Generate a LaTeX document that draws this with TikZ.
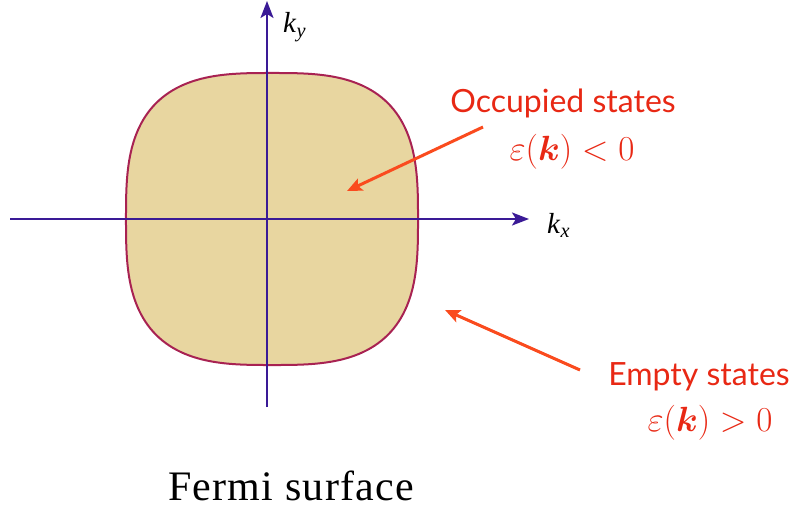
\RequirePackage{fix-cm}
\documentclass[tikz,border=0pt]{standalone}
\usepackage{amsmath,bm}
\usepackage[no-math]{fontspec}
\setmainfont{Liberation Serif}
\newfontfamily\labelfont{Lato}
\newfontfamily\captionfont[LetterSpace=3]{Liberation Serif}
\usetikzlibrary{arrows.meta}
\definecolor{fermifill}{RGB}{232,214,160}
\definecolor{fermiline}{RGB}{168,34,82}
\definecolor{axisblue}{RGB}{58,26,150}
\definecolor{pointred}{RGB}{250,75,30}
\definecolor{textred}{RGB}{232,40,20}
\begin{document}
\begin{tikzpicture}[
  x=1pt, y=-1pt,
  axis/.style={draw=axisblue, line width=2.4pt, -{Stealth[length=17pt, width=13pt, inset=4pt]}},
  pointer/.style={draw=pointred, line width=3pt, -{Stealth[length=15pt, width=13pt, inset=3pt]}},
  statelabel/.style={font=\labelfont\fontsize{32}{36}\selectfont, text=textred, anchor=base, inner sep=0pt},
  energy/.style={font=\fontsize{35}{38}\selectfont, text=textred, anchor=base, inner sep=0pt},
  axislabel/.style={font=\fontsize{29}{32}\selectfont, anchor=base west, inner sep=0pt},
  caption/.style={font=\captionfont\fontsize{42}{46}\selectfont, anchor=base, inner sep=0pt}
]
\useasboundingbox (0,0) rectangle (799,511);

% --- la surface de Fermi ---
\filldraw[fill=fermifill, draw=fermiline, line width=2pt, shift={(272,219)}]
  plot[domain=0:360, samples=241]
  (\x:{146*pow(pow(abs(cos(\x)),3)+pow(abs(sin(\x)),3),-1/3)}) -- cycle;

% --- axes ---
\coordinate (xstart) at (10,219);
\coordinate (xend)   at (529,219);
\coordinate (ystart) at (267,407);
\coordinate (yend)   at (267,1);
\draw[axis] (xstart) -- (xend);
\draw[axis] (ystart) -- (yend);
\node[axislabel] (kx) at (547,233) {\textit{k}$_{\textit{x}}$};
\node[axislabel] (ky) at (283,33)  {\textit{k}$_{\textit{y}}$};

% --- etats occupes ---
\node[statelabel] (occ)  at (563,112) {Occupied states};
\node[energy]     (occE) at (572,160) {$\varepsilon(\bm{k})<0$};
\coordinate (occtail) at (483,127);
\coordinate (occtip)  at (347,191);
\draw[pointer] (occtail) -- (occtip);

% --- etats vides ---
\node[statelabel] (emp)  at (699,385) {Empty states};
\node[energy]     (empE) at (710,431) {$\varepsilon(\bm{k})>0$};
\coordinate (emptail) at (580,370);
\coordinate (emptip)  at (445,310);
\draw[pointer] (emptail) -- (emptip);

\node[caption] (title) at (291,500) {Fermi surface};
\end{tikzpicture}
\end{document}
